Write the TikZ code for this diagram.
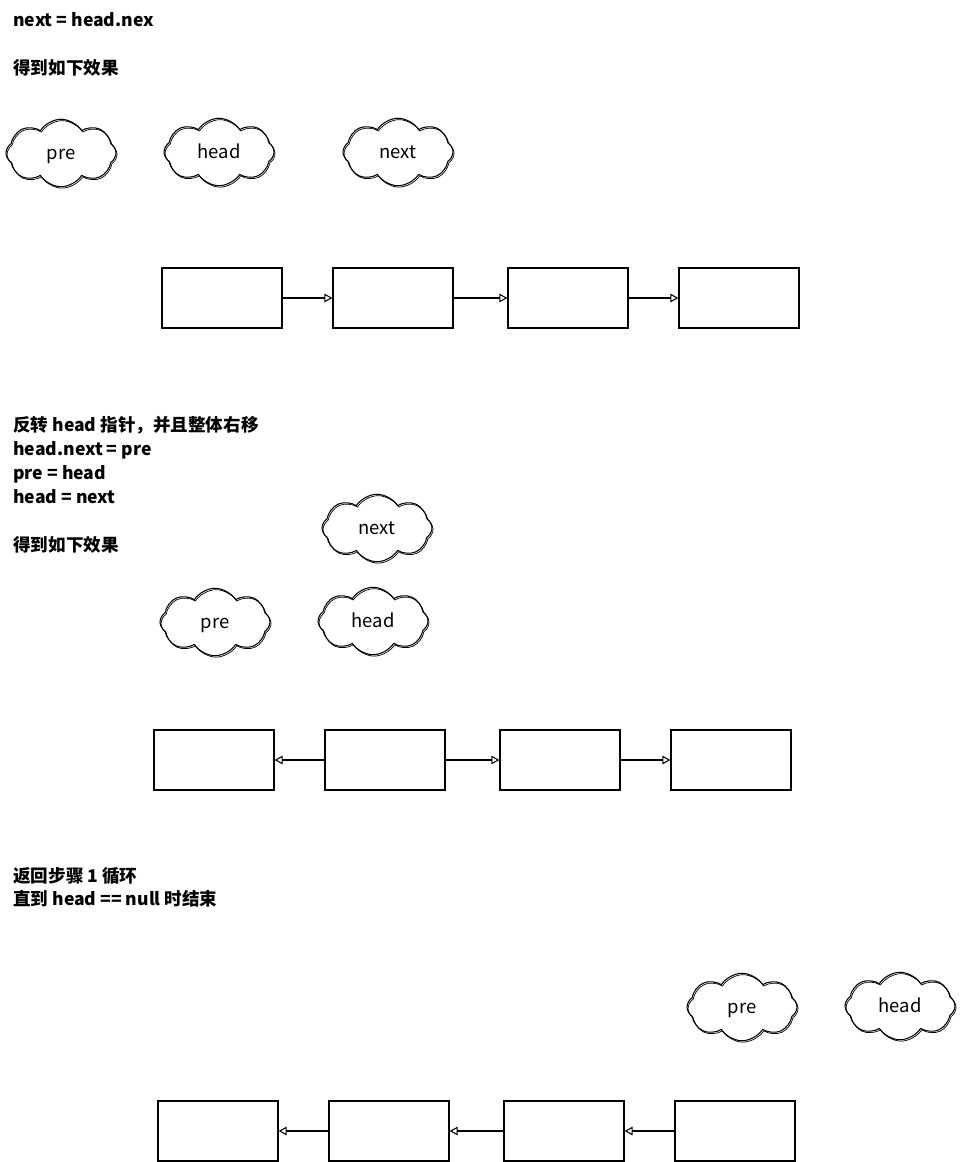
\documentclass[tikz,border=0pt]{standalone}
\usepackage{fontspec}
\setmainfont{Noto Sans CJK SC}
\usetikzlibrary{arrows.meta,shapes.symbols,positioning}

\tikzset{
  note/.style={anchor=base west, inner sep=0pt, font=\fontsize{10}{12}\bfseries},
  bubble/.style={cloud, cloud puffs=8, cloud puff arc=115, aspect=1.6, draw, line width=0.6pt,
    minimum width=2.2cm, minimum height=1.35cm, inner sep=0pt,
    text height=0.9em, text depth=0.2em,
    font=\fontsize{10.5}{12}\selectfont,
    postaction={draw, line width=0.4pt, transform canvas={shift={(0.6pt,-0.8pt)}}}},
  cell/.style={draw, line width=0.7pt, minimum width=2.4cm, minimum height=1.2cm, inner sep=0pt},
  link/.style={line width=0.6pt, -{Triangle[open, length=1.6mm, width=1.7mm]}}
}

\begin{document}
\begin{tikzpicture}[x=0.02cm, y=-0.02cm]

		% Page
		\useasboundingbox[fill=white] (0,0) rectangle (960,1162);

		% Step one
		\node[note] (t1) at (13,27) {next = head.nex};
		\node[note] (t2) at (13,75) {得到如下效果};

		\node[bubble] (pre1) at (61,153) {pre};
		\node[bubble] (head1) at (219,152) {head};
		\node[bubble] (next1) at (398,152) {next};

		\node[cell] (a1) at (222,298) {};
		\node[cell] (b1) at (393,298) {};
		\node[cell] (c1) at (568,298) {};
		\node[cell] (d1) at (739,298) {};
		\draw[link] (a1.east) -- (b1.west);
		\draw[link] (b1.east) -- (c1.west);
		\draw[link] (c1.east) -- (d1.west);

		% Step two
		\node[note] (t3) at (13,431) {反转 head 指针，并且整体右移};
		\node[note] (t4) at (13,455) {head.next = pre};
		\node[note] (t5) at (13,479) {pre = head};
		\node[note] (t6) at (13,503) {head = next};
		\node[note] (t7) at (13,551) {得到如下效果};

		\node[bubble] (next2) at (377,528) {next};
		\node[bubble] (pre2) at (215,622) {pre};
		\node[bubble] (head2) at (373,621) {head};

		\node[cell] (a2) at (214,760) {};
		\node[cell] (b2) at (385,760) {};
		\node[cell] (c2) at (560,760) {};
		\node[cell] (d2) at (731,760) {};
		\draw[link] (b2.west) -- (a2.east);
		\draw[link] (b2.east) -- (c2.west);
		\draw[link] (c2.east) -- (d2.west);

		% Step three
		\node[note] (t8) at (13,882) {返回步骤 1 循环};
		\node[note] (t9) at (13,905) {直到 head == null 时结束};

		\node[bubble] (pre3) at (742,1007) {pre};
		\node[bubble] (head3) at (900,1006) {head};

		\node[cell] (a3) at (218,1131) {};
		\node[cell] (b3) at (389,1131) {};
		\node[cell] (c3) at (564,1131) {};
		\node[cell] (d3) at (735,1131) {};
		\draw[link] (b3.west) -- (a3.east);
		\draw[link] (c3.west) -- (b3.east);
		\draw[link] (d3.west) -- (c3.east);

	\end{tikzpicture}
\end{document}
